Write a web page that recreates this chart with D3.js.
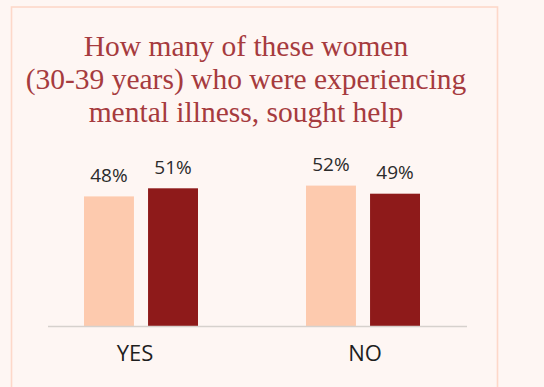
<!DOCTYPE html>
<html>
<head>
<meta charset="utf-8">
<script src="https://cdn.jsdelivr.net/npm/d3@7"></script>
<style>
  html, body { margin: 0; padding: 0; background: #fef6f3; }
  svg { display: block; }
</style>
</head>
<body>
<svg id="main-svg"></svg>
<script>
const titleLines = ["How many of these women", "(30-39 years) who were experiencing", "mental illness, sought help"];
const categories = ["YES", "NO"];
const series = ["group A", "group B"];
const yesValues = [48, 51];
const noValues = [52, 49];
const colors = ["#fdcaae", "#8e1a1a"];

let width = 544, height = 387;
let svg = d3.select('#main-svg').attr('width', width).attr('height', height);

// card border
svg.append('rect')
  .attr('x', 11.5).attr('y', 7)
  .attr('width', 486).attr('height', 400)
  .attr('fill', 'none')
  .attr('stroke', '#fdd8c9')
  .attr('stroke-width', 1.6);

// title
svg.append('g').selectAll('text')
  .data(titleLines)
  .enter()
  .append('text')
  .attr('x', 246)
  .attr('y', (d, i) => 56 + i * 33)
  .attr('text-anchor', 'middle')
  .attr('font-family', 'Liberation Serif, serif')
  .attr('font-size', 29.5)
  .attr('fill', '#a63b3e')
  .text(d => d);

let rows = [
  {cat: categories[0], values: yesValues},
  {cat: categories[1], values: noValues}
];

let x0 = d3.scaleBand().domain(categories).range([30, 474]);
let x1 = d3.scaleBand().domain(series).range([0, 114]).paddingInner(0.22);
let y = d3.scaleLinear().domain([0, 60]).range([326, 164]);

let groups = svg.append('g').selectAll('g')
  .data(rows)
  .enter()
  .append('g')
  .attr('transform', d => `translate(${x0(d.cat) + x0.bandwidth() / 2 - 57},0)`);

groups.selectAll('rect')
  .data(d => d.values.map((v, i) => ({key: series[i], value: v, i: i})))
  .enter()
  .append('rect')
  .attr('x', d => x1(d.key))
  .attr('y', d => y(d.value))
  .attr('width', x1.bandwidth())
  .attr('height', d => y(0) - y(d.value))
  .attr('fill', d => colors[d.i]);

groups.selectAll('text.val')
  .data(d => d.values.map((v, i) => ({key: series[i], value: v})))
  .enter()
  .append('text')
  .attr('class', 'val')
  .attr('x', d => x1(d.key) + x1.bandwidth() / 2)
  .attr('y', d => y(d.value) - 14.5)
  .attr('text-anchor', 'middle')
  .attr('font-family', 'Open Sans, sans-serif')
  .attr('font-size', 19)
  .attr('fill', '#2b2b2b')
  .text(d => d.value + '%');

// baseline
svg.append('line')
  .attr('x1', 48).attr('x2', 467)
  .attr('y1', y(0) + 0.5).attr('y2', y(0) + 0.5)
  .attr('stroke', '#d6d1cd')
  .attr('stroke-width', 1.5);

// category labels
let xAxis = svg.append('g')
  .attr('transform', `translate(0,${y(0)})`)
  .call(d3.axisBottom(x0).tickSize(0).tickPadding(19));
xAxis.select('.domain').remove();
xAxis.selectAll('text')
  .attr('font-family', 'Open Sans, sans-serif')
  .attr('font-size', 22)
  .attr('fill', '#1e1e1e');
xAxis.selectAll('.tick')
  .attr('transform', d => `translate(${x0(d) + x0.bandwidth() / 2 + (d === 'YES' ? -6 : 2)},0)`);
</script>
</body>
</html>
